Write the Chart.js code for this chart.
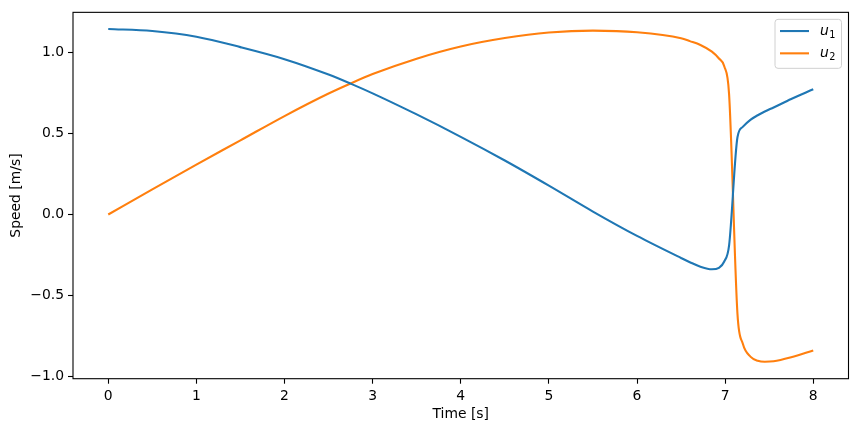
<!DOCTYPE html>
<html>
<head>
<meta charset="utf-8">
<script src="https://cdn.jsdelivr.net/npm/chart.js@4"></script>
<style>
  html, body { margin: 0; padding: 0; background: #fff; }
  #wrap { width: 858px; height: 432px; }
</style>
</head>
<body>
<div id="wrap"><canvas id="speed-chart"></canvas></div>
<script>
// data
const time = [0, 0.5, 1.0, 1.5, 2.0, 2.5, 2.75, 3.0, 3.5, 4.0, 4.5, 5.0, 5.5, 6.0, 6.5,
    6.6, 6.72, 6.85, 6.93, 6.99, 7.045, 7.14, 7.2, 7.29, 7.37, 7.45, 7.55, 7.75, 8.0];
const u1 = [1.144, 1.131, 1.096, 1.032, 0.958, 0.863, 0.807, 0.747, 0.617, 0.479, 0.333, 0.178, 0.018, -0.132, -0.268,
    -0.294, -0.322, -0.338, -0.329, -0.29, -0.19, 0.476, 0.54, 0.585, 0.612, 0.635, 0.66, 0.712, 0.772];
const u2 = [0, 0.155, 0.308, 0.457, 0.607, 0.746, 0.808, 0.866, 0.961, 1.036, 1.088, 1.122, 1.134, 1.124, 1.087,
    1.069, 1.045, 1.004, 0.962, 0.914, 0.741, -0.613, -0.796, -0.878, -0.902, -0.908, -0.905, -0.88, -0.838];
const seriesNames = ['u', 'u'];
const seriesSubs = ['1', '2'];
const xTicks = [0, 1, 2, 3, 4, 5, 6, 7, 8];
const yTicks = [-1.0, -0.5, 0.0, 0.5, 1.0];
const yTickLabels = ['\u22121.0', '\u22120.5', '0.0', '0.5', '1.0'];

const FONT = 'DejaVu Sans';
const FS = 13.9;

function pts(ys) {
    return time.map((t, i) => ({ x: t, y: ys[i] }));
}

// axes frame like matplotlib spines
const framePlugin = {
    id: 'frame',
    afterDatasetsDraw(chart) {
        const { ctx, chartArea: a } = chart;
        ctx.save();
        ctx.strokeStyle = '#000';
        ctx.lineWidth = 1.1;
        ctx.strokeRect(a.left, a.top, a.right - a.left, a.bottom - a.top);
        ctx.restore();
    }
};

// legend box in the upper right with italic u and subscript
const legendPlugin = {
    id: 'mplLegend',
    afterDraw(chart) {
        const { ctx, chartArea: a } = chart;
        const w = 66.5, h = 49;
        const x0 = a.right - 7 - w, y0 = a.top + 7;
        ctx.save();
        ctx.beginPath();
        ctx.roundRect(x0, y0, w, h, 3);
        ctx.fillStyle = 'rgba(255,255,255,0.8)';
        ctx.fill();
        ctx.strokeStyle = '#d0d0d0';
        ctx.lineWidth = 1;
        ctx.stroke();
        chart.data.datasets.forEach((ds, i) => {
            const y = y0 + 11.7 + i * 22.3;
            ctx.beginPath();
            ctx.moveTo(x0 + 5, y);
            ctx.lineTo(x0 + 34, y);
            ctx.strokeStyle = ds.borderColor;
            ctx.lineWidth = 2.1;
            ctx.stroke();
            ctx.fillStyle = '#000';
            ctx.textBaseline = 'alphabetic';
            ctx.textAlign = 'left';
            ctx.font = 'italic ' + FS + 'px "' + FONT + '"';
            const tx = x0 + 45;
            ctx.fillText(seriesNames[i], tx, y + 4);
            const uw = ctx.measureText(seriesNames[i]).width;
            ctx.font = (FS * 0.7) + 'px "' + FONT + '"';
            ctx.fillText(seriesSubs[i], tx + uw + 0.5, y + 6.5);
        });
        ctx.restore();
    }
};

new Chart(document.getElementById('speed-chart'), {
    type: 'line',
    data: {
        datasets: [{
            label: 'u1',
            data: pts(u1),
            borderColor: '#1f77b4',
            borderWidth: 2.1,
            pointRadius: 0,
            cubicInterpolationMode: 'monotone',
            fill: false,
        }, {
            label: 'u2',
            data: pts(u2),
            borderColor: '#ff7f0e',
            borderWidth: 2.1,
            pointRadius: 0,
            cubicInterpolationMode: 'monotone',
            fill: false,
        }]
    },
    options: {
        responsive: true,
        maintainAspectRatio: false,
        animation: false,
        devicePixelRatio: 1,
        layout: { padding: { left: 0, right: 9.5, top: 9.3, bottom: 0 } },
        plugins: {
            legend: { display: false },
            tooltip: { enabled: false }
        },
        scales: {
            x: {
                type: 'linear',
                min: -0.4,
                max: 8.4,
                afterBuildTicks: (s) => { s.ticks = xTicks.map(v => ({ value: v })); },
                afterFit: (s) => { s.height = 53.3; },
                ticks: {
                    color: '#000',
                    padding: 4,
                    maxRotation: 0,
                    font: { family: FONT, size: FS },
                    callback: (v) => String(v)
                },
                grid: {
                    drawOnChartArea: false,
                    drawTicks: true,
                    tickLength: 5,
                    tickColor: '#000',
                    tickWidth: 1.1
                },
                border: { display: false },
                title: {
                    display: true,
                    text: 'Time [s]',
                    color: '#000',
                    font: { family: FONT, size: FS },
                    padding: { top: 0, bottom: 9.7 }
                }
            },
            y: {
                type: 'linear',
                min: -1.0125,
                max: 1.2465,
                afterBuildTicks: (s) => { s.ticks = yTicks.map(v => ({ value: v })); },
                afterFit: (s) => { s.width = 73; },
                ticks: {
                    color: '#000',
                    padding: 4,
                    font: { family: FONT, size: FS },
                    callback: (v) => {
                        const k = yTicks.indexOf(v);
                        return k >= 0 ? yTickLabels[k] : '';
                    }
                },
                grid: {
                    drawOnChartArea: false,
                    drawTicks: true,
                    tickLength: 5,
                    tickColor: '#000',
                    tickWidth: 1.1
                },
                border: { display: false },
                title: {
                    display: true,
                    text: 'Speed [m/s]',
                    color: '#000',
                    font: { family: FONT, size: FS },
                    padding: { top: 7.7, bottom: 0 }
                }
            }
        }
    },
    plugins: [framePlugin, legendPlugin]
});
</script>
</body>
</html>
